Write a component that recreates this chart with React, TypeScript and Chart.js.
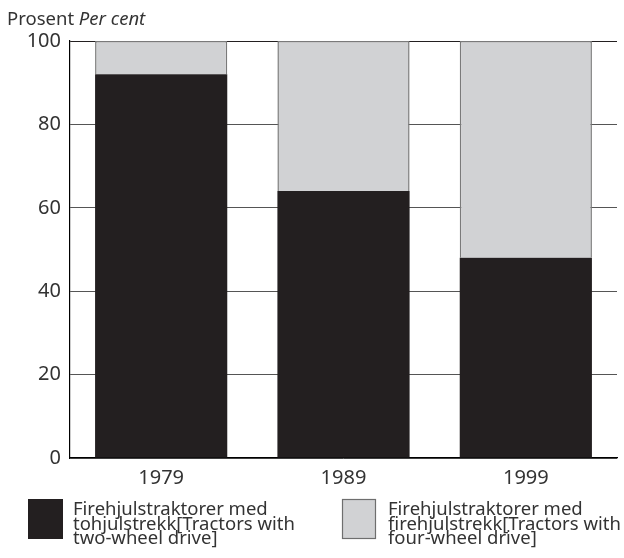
import React, { useEffect, useRef } from "react";
import { Chart, registerables } from "chart.js";

Chart.register(...registerables);

const categories = ["1979", "1989", "1999"];
const twoWheel = [92, 64, 48];
const fourWheel = [8, 36, 52];
const yTicks = [0, 20, 40, 60, 80, 100];
const legendLines1 = ["Firehjulstraktorer med", "tohjulstrekk[Tractors with", "two-wheel drive]"];
const legendLines2 = ["Firehjulstraktorer med", "firehjulstrekk[Tractors with", "four-wheel drive]"];

const FONT = "'Noto Sans', 'Open Sans', sans-serif";
const DARK = "#231f20";
const LIGHT = "#d1d2d4";
const TEXT = "#333333";
const FS = 18.5;
const TFS = 20;

const overlay = {
  id: "overlay",
  afterDraw(chart: any) {
    const ctx = chart.ctx;
    ctx.save();
    ctx.fillStyle = TEXT;
    ctx.textBaseline = "alphabetic";
    ctx.textAlign = "left";
    ctx.font = `${FS}px ${FONT}`;
    const p = "Prosent ";
    ctx.fillText(p, 7, 25);
    const w = ctx.measureText(p).width;
    ctx.font = `italic ${FS}px ${FONT}`;
    ctx.fillText("Per cent", 7 + w, 25);

    // legend
    ctx.fillStyle = DARK;
    ctx.fillRect(28, 499, 35, 40);
    ctx.fillStyle = LIGHT;
    ctx.fillRect(342, 499, 34, 40);
    ctx.strokeStyle = "#6e6e6e";
    ctx.lineWidth = 1.2;
    ctx.strokeRect(342.5, 499.5, 33, 39);
    ctx.fillStyle = TEXT;
    ctx.font = `${FS}px ${FONT}`;
    legendLines1.forEach((t, i) => ctx.fillText(t, 73, 515 + i * 14.5));
    legendLines2.forEach((t, i) => ctx.fillText(t, 388, 515 + i * 14.5));
    ctx.restore();
  },
};

export default function App() {
  const ref = useRef<HTMLCanvasElement | null>(null);
  useEffect(() => {
    if (!ref.current) return;
    const chart = new Chart(ref.current, {
      type: "bar",
      data: {
        labels: categories,
        datasets: [
          {
            label: "two",
            data: twoWheel,
            backgroundColor: DARK,
            borderWidth: 0,
            barPercentage: 0.725,
            categoryPercentage: 1,
          },
          {
            label: "four",
            data: fourWheel,
            backgroundColor: LIGHT,
            borderColor: "#7a7a7a",
            borderWidth: 1.5,
            borderSkipped: "bottom",
            barPercentage: 0.725,
            categoryPercentage: 1,
          },
        ],
      },
      options: {
        animation: false,
        responsive: false,
        layout: { padding: { left: 0, right: 7, top: 41, bottom: 70 } },
        plugins: { legend: { display: false }, tooltip: { enabled: false } },
        scales: {
          x: {
            stacked: true,
            grid: { display: true, color: "rgba(0,0,0,0)", drawTicks: false },
            border: { display: true, color: "#000000", width: 1.2 },
            ticks: { color: TEXT, font: { family: FONT, size: TFS }, padding: 8 },
            afterFit: (s: any) => { s.height = 30; },
          },
          y: {
            stacked: true,
            min: 0,
            max: 100,
            afterBuildTicks: (s: any) => { s.ticks = yTicks.map((v) => ({ value: v })); },
            grid: {
              drawTicks: false,
              color: (c: any) => (c.tick && c.tick.value === 100 ? "#231f20" : "#555555"),
              lineWidth: 1,
            },
            border: { display: true, color: "#000000", width: 1.2 },
            ticks: { color: TEXT, font: { family: FONT, size: TFS }, padding: 9 },
            afterFit: (s: any) => { s.width = 70; },
          },
        },
      },
      plugins: [overlay],
    });
    return () => chart.destroy();
  }, []);
  return (
    <div style={{ position: "fixed", left: 0, top: 0, width: 624, height: 558, background: "#fff" }}>
      <canvas ref={ref} width={624} height={558} style={{ display: "block" }} />
    </div>
  );
}
